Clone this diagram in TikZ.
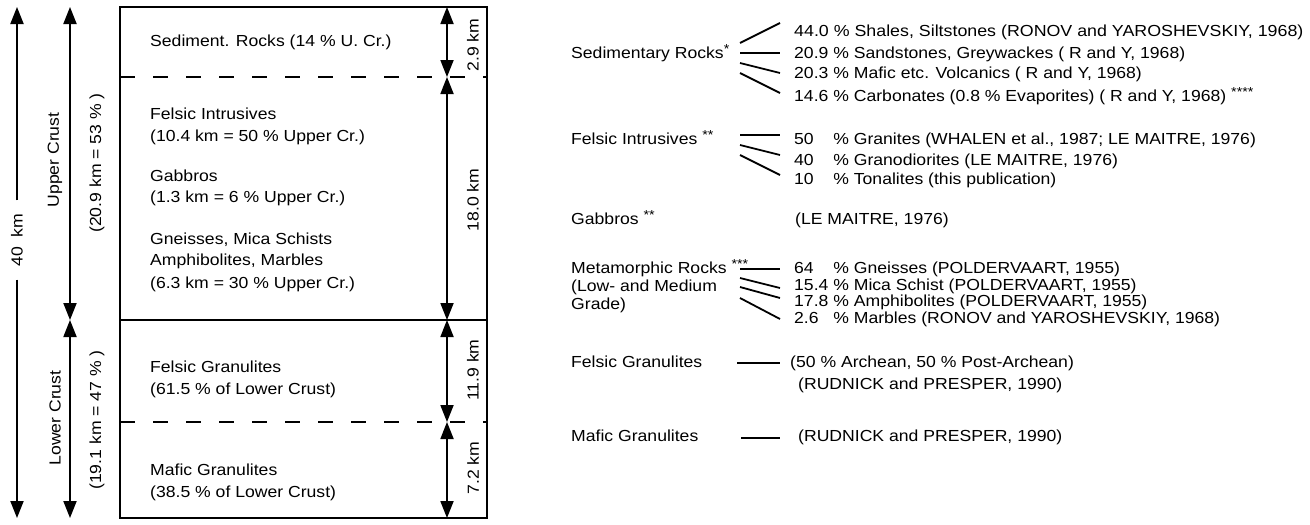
\documentclass[tikz,border=0pt]{standalone}
\usepackage{fontspec}
\setmainfont{Liberation Sans}[FakeStretch=1.1]
\usetikzlibrary{arrows.meta}
\newcommand{\stars}[1]{{\fontsize{13}{13}\selectfont\raisebox{4.5pt}{#1}}}
\newcommand{\pc}[1]{\rlap{#1}\phantom{44.0}\ }
\begin{document}
\begin{tikzpicture}[x=1pt,y=-1pt,
  txt/.style={anchor=base west, inner sep=0pt, font=\fontsize{16}{19}\selectfont},
  rot/.style={rotate=90, inner sep=0pt, font=\fontsize{16}{19}\selectfont},
  dim/.style={line width=1.8pt, {Triangle[length=17pt,width=13pt]}-{Triangle[length=17pt,width=13pt]}},
  half/.style={line width=1.8pt, -{Triangle[length=17pt,width=13pt]}},
  frame/.style={line width=1.3pt},
  layer/.style={line width=1.3pt, dash pattern=on 15pt off 18pt},
  link/.style={line width=1.8pt},
  thinlink/.style={line width=1.2pt}]
\useasboundingbox (0,0) rectangle (1310,525);

% ---- column of layers ----
\coordinate (tl) at (120,7);   \coordinate (tr) at (487,7);
\coordinate (bl) at (120,518); \coordinate (br) at (487,518);
\coordinate (d1l) at (120,77);  \coordinate (d1r) at (487,77);
\coordinate (sl) at (120,320);  \coordinate (sr) at (487,320);
\coordinate (d2l) at (120,422); \coordinate (d2r) at (487,422);
\draw[frame] (tl) -- (tr) -- (br) -- (bl) -- cycle;
\draw[frame] (sl) -- (sr);
\draw[layer] (d1l) -- (d1r);
\draw[layer] (d2l) -- (d2r);

% thickness arrows inside the column
\coordinate (k0) at (447,7);
\coordinate (k1) at (447,77);
\coordinate (k2) at (447,320);
\coordinate (k3) at (447,422);
\coordinate (k4) at (447,518);
\draw[dim] (k0) -- (k1);
\draw[dim] (k1) -- (k2);
\draw[dim] (k2) -- (k3);
\draw[dim] (k3) -- (k4);
\node[rot] (th1) at (473,45)  {2.9 km};
\node[rot] (th2) at (473,200) {18.0 km};
\node[rot] (th3) at (473,370) {11.9 km};
\node[rot] (th4) at (473,468) {7.2 km};

% layer contents
\node[txt] (c1)  at (150,46)  {Sediment. Rocks (14 \% U. Cr.)};
\node[txt] (c2)  at (150,119) {Felsic Intrusives};
\node[txt] (c3)  at (150,141) {(10.4 km = 50 \% Upper Cr.)};
\node[txt] (c4)  at (150,181) {Gabbros};
\node[txt] (c5)  at (150,202) {(1.3 km = 6 \% Upper Cr.)};
\node[txt] (c6)  at (150,244) {Gneisses, Mica Schists};
\node[txt] (c7)  at (150,265) {Amphibolites, Marbles};
\node[txt] (c8)  at (150,288) {(6.3 km = 30 \% Upper Cr.)};
\node[txt] (c9)  at (150,372) {Felsic Granulites};
\node[txt] (c10) at (150,394) {(61.5 \% of Lower Crust)};
\node[txt] (c11) at (150,475) {Mafic Granulites};
\node[txt] (c12) at (150,497) {(38.5 \% of Lower Crust)};

% ---- total thickness and crust halves ----
\coordinate (t40) at (17,7);
\coordinate (b40) at (17,518);
\node[rot, inner xsep=13pt] (km40) at (17,240) {40\hspace{0.6em}km};
\draw[half] (km40.east) -- (t40);
\draw[half] (km40.west) -- (b40);

\coordinate (uc) at (70,7);
\coordinate (mc) at (70,320);
\coordinate (lc) at (70,518);
\draw[dim] (uc) -- (mc);
\draw[dim] (mc) -- (lc);
\node[rot] (ucl) at (55,160) {Upper Crust};
\node[rot] (ucv) at (97,163) {(20.9 km = 53 \% )};
\node[rot] (lcl) at (55,418) {Lower Crust};
\node[rot] (lcv) at (97,420) {(19.1 km = 47 \% )};

% ---- composition of each rock group ----
\node[txt] (g1) at (571,58)  {Sedimentary Rocks\stars{*}};
\node[txt] (g2) at (571,144) {Felsic Intrusives \stars{**}};
\node[txt] (g3) at (571,224) {Gabbros \stars{**}};
\node[txt] (g4) at (571,273) {Metamorphic Rocks \stars{***}};
\node[txt] (g4b) at (571,291) {(Low- and Medium};
\node[txt] (g4c) at (571,309) {Grade)};
\node[txt] (g5) at (571,367) {Felsic Granulites};
\node[txt] (g6) at (571,441) {Mafic Granulites};

\node[txt] (s1) at (794,36)  {\scalebox{1.012}[1]{\pc{44.0}\% Shales, Siltstones (RONOV and YAROSHEVSKIY, 1968)}};
\node[txt] (s2) at (794,58)  {\pc{20.9}\% Sandstones, Greywackes ( R and Y, 1968)};
\node[txt] (s3) at (794,78)  {\pc{20.3}\% Mafic etc. Volcanics ( R and Y, 1968)};
\node[txt] (s4) at (794,101) {\pc{14.6}\% Carbonates (0.8 \% Evaporites) ( R and Y, 1968) \stars{****}};

\node[txt] (f1) at (794,144) {\pc{50}\% Granites (WHALEN et al., 1987; LE MAITRE, 1976)};
\node[txt] (f2) at (794,165) {\pc{40}\% Granodiorites (LE MAITRE, 1976)};
\node[txt] (f3) at (794,184) {\pc{10}\% Tonalites (this publication)};

\node[txt] (gb) at (795,224) {(LE MAITRE, 1976)};

\node[txt] (m1) at (794,273) {\pc{64}\% Gneisses (POLDERVAART, 1955)};
\node[txt] (m2) at (794,290) {\pc{15.4}\% Mica Schist (POLDERVAART, 1955)};
\node[txt] (m3) at (794,306) {\pc{17.8}\% Amphibolites (POLDERVAART, 1955)};
\node[txt] (m4) at (794,323) {\pc{2.6}\% Marbles (RONOV and YAROSHEVSKIY, 1968)};

\node[txt] (fg1) at (790,367) {(50 \% Archean, 50 \% Post-Archean)};
\node[txt] (fg2) at (798,389) {(RUDNICK and PRESPER, 1990)};
\node[txt] (mg1) at (798,441) {(RUDNICK and PRESPER, 1990)};

% fan of connectors from each group to its components
\foreach \n/\ya/\yb in {sa/43/23, sb/53/53, sc/63/73, sd/73/93,
                       fa/135/135, fb/145/155, fc/155/175,
                       ma/269/269, mb/278/288, mc/287/298, md/298/319}{
  \coordinate (\n-from) at (740,\ya);
  \coordinate (\n-to) at (780,\yb);
  \draw[link] (\n-from) -- (\n-to);
}
\coordinate (fg-from) at (737,363); \coordinate (fg-to) at (780,363);
\draw[link] (fg-from) -- (fg-to);
\coordinate (mg-from) at (741,438); \coordinate (mg-to) at (780,438);
\draw[thinlink] (mg-from) -- (mg-to);
\end{tikzpicture}
\end{document}
